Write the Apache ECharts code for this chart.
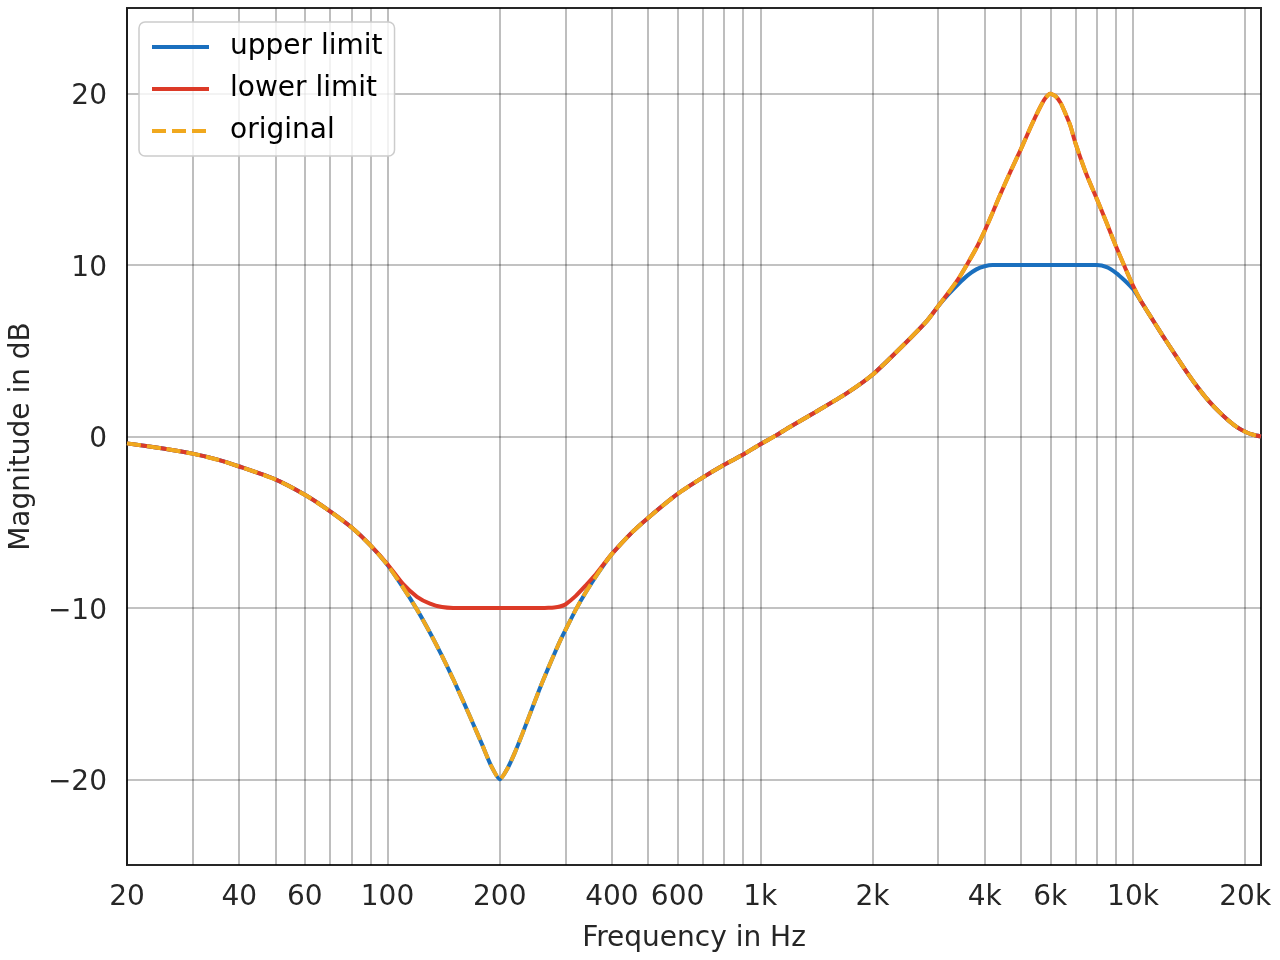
<!DOCTYPE html>
<html>
<head>
<meta charset="utf-8">
<script src="https://cdn.jsdelivr.net/npm/echarts@6/dist/echarts.min.js"></script>
<style>html,body{margin:0;padding:0;background:#fff;}#chart{width:1280px;height:960px;}</style>
</head>
<body>
<div id="chart"></div>
<script>
// Frequencies in Hz
const freq = [20, 25, 30, 35, 40, 50, 60, 70, 80, 90, 100, 110, 120, 130, 140, 150, 160, 170, 180, 190,
  200, 210, 220, 230, 240, 250, 260, 270, 280, 290, 300, 320, 340, 360, 380, 400, 450, 500, 600, 700,
  800, 900, 1000, 1100, 1200, 1400, 1700, 2000, 2400, 2800, 3000, 3200, 3400, 3600, 3800, 4000, 4200, 4400, 4700, 5000,
  5300, 5600, 5800, 6000, 6200, 6400, 6600, 6800, 7000, 7500, 8000, 8500, 9000, 9500, 10000, 10500, 11000, 12000, 13000, 14000,
  15000, 16000, 17000, 18000, 19000, 20000, 21000, 22050];

// Magnitude in dB
const original = [-0.4, -0.7, -1.0, -1.35, -1.75, -2.5, -3.4, -4.35, -5.3, -6.35, -7.5, -8.8, -10.1, -11.45, -12.8, -14.15, -15.5, -16.8, -18.05, -19.25,
  -20.0, -19.35, -18.4, -17.35, -16.3, -15.3, -14.35, -13.5, -12.7, -11.95, -11.3, -10.1, -9.1, -8.25, -7.5, -6.85, -5.65, -4.75, -3.35, -2.4,
  -1.65, -1.05, -0.45, 0.05, 0.55, 1.4, 2.5, 3.6, 5.25, 6.75, 7.6, 8.4, 9.2, 10.1, 11.0, 12.0, 13.05, 14.1, 15.5, 16.75,
  18.0, 19.1, 19.7, 20.0, 19.85, 19.45, 18.8, 18.1, 17.15, 15.3, 13.85, 12.45, 11.1, 9.9, 8.8, 7.9, 7.2, 5.9, 4.75, 3.7,
  2.8, 2.05, 1.45, 0.95, 0.55, 0.28, 0.1, 0.0];

const upper = [-0.4, -0.7, -1.0, -1.35, -1.75, -2.5, -3.4, -4.35, -5.3, -6.35, -7.5, -8.8, -10.1, -11.45, -12.8, -14.15, -15.5, -16.8, -18.05, -19.25,
  -20.0, -19.35, -18.4, -17.35, -16.3, -15.3, -14.35, -13.5, -12.7, -11.95, -11.3, -10.1, -9.1, -8.25, -7.5, -6.85, -5.65, -4.75, -3.35, -2.4,
  -1.65, -1.05, -0.45, 0.05, 0.55, 1.4, 2.5, 3.6, 5.25, 6.75, 7.6, 8.3, 8.9, 9.4, 9.75, 9.93, 10.0, 10.0, 10.0, 10.0,
  10.0, 10.0, 10.0, 10.0, 10.0, 10.0, 10.0, 10.0, 10.0, 10.0, 10.0, 9.88, 9.55, 9.1, 8.6, 7.9, 7.2, 5.9, 4.75, 3.7,
  2.8, 2.05, 1.45, 0.95, 0.55, 0.28, 0.1, 0.0];

const lower = [-0.4, -0.7, -1.0, -1.35, -1.75, -2.5, -3.4, -4.35, -5.3, -6.35, -7.45, -8.6, -9.35, -9.75, -9.95, -10.0, -10.0, -10.0, -10.0, -10.0,
  -10.0, -10.0, -10.0, -10.0, -10.0, -10.0, -10.0, -9.99, -9.97, -9.92, -9.8, -9.3, -8.7, -8.1, -7.45, -6.85, -5.65, -4.75, -3.35, -2.4,
  -1.65, -1.05, -0.45, 0.05, 0.55, 1.4, 2.5, 3.6, 5.25, 6.75, 7.6, 8.4, 9.2, 10.1, 11.0, 12.0, 13.05, 14.1, 15.5, 16.75,
  18.0, 19.1, 19.7, 20.0, 19.85, 19.45, 18.8, 18.1, 17.15, 15.3, 13.85, 12.45, 11.1, 9.9, 8.8, 7.9, 7.2, 5.9, 4.75, 3.7,
  2.8, 2.05, 1.45, 0.95, 0.55, 0.28, 0.1, 0.0];

// Axis ticks / grid
const xGridValues = [20, 30, 40, 50, 60, 70, 80, 90, 100, 200, 300, 400, 500, 600, 700, 800, 900,
  1000, 2000, 3000, 4000, 5000, 6000, 7000, 8000, 9000, 10000, 20000];
const xLabelValues = [20, 40, 60, 100, 200, 400, 600, 1000, 2000, 4000, 6000, 10000, 20000];
const yTickValues = [-20, -10, 0, 10, 20];

const seriesNames = ['upper limit', 'lower limit', 'original'];

const pairs = arr => freq.map((f, i) => [f, arr[i]]);

const FONT = 'DejaVu Sans';
const TXT = '#262626';
const FS = 28;
const chart = echarts.init(document.getElementById('chart'), null, { renderer: 'canvas' });
chart.setOption({
  animation: false,
  backgroundColor: '#ffffff',
  grid: {
    left: 126, right: 19, top: 8, bottom: 95,
    show: true, borderColor: '#262626', borderWidth: 2, backgroundColor: 'transparent',
    containLabel: false
  },
  legend: {
    orient: 'vertical',
    left: 139, top: 22,
    data: seriesNames,
    itemWidth: 57, itemHeight: 14, itemGap: 12,
    padding: [10, 12, 10, 11],
    backgroundColor: 'rgba(255,255,255,0.8)',
    borderColor: '#cccccc', borderWidth: 1.5, borderRadius: 6,
    itemStyle: { opacity: 0 },
    lineStyle: { width: 4 },
    textStyle: { fontFamily: FONT, fontSize: FS, color: '#000', lineHeight: 30, padding: [0, 0, 0, 16] }
  },
  xAxis: {
    type: 'log', logBase: 10, min: 20, max: 22050,
    name: 'Frequency in Hz', nameLocation: 'middle', nameGap: 60,
    nameTextStyle: { fontFamily: FONT, fontSize: FS, color: TXT },
    axisLine: { show: false, onZero: false },
    axisTick: { show: false, customValues: xGridValues },
    axisLabel: {
      customValues: xLabelValues, margin: 19,
      fontFamily: FONT, fontSize: FS, color: TXT,
      formatter: v => v >= 1000 ? (v / 1000) + 'k' : String(v)
    },
    splitLine: { show: true, lineStyle: { color: 'rgba(0,0,0,0.32)', width: 1.6 } },
    minorTick: { show: false }, minorSplitLine: { show: false }
  },
  yAxis: {
    type: 'value', min: -25, max: 25,
    name: 'Magnitude in dB', nameLocation: 'middle', nameGap: 91, nameRotate: 90,
    nameTextStyle: { fontFamily: FONT, fontSize: FS, color: TXT },
    axisLine: { show: false, onZero: false },
    axisTick: { show: false, customValues: yTickValues },
    axisLabel: {
      customValues: yTickValues, margin: 20,
      fontFamily: FONT, fontSize: FS, color: TXT,
      formatter: v => '{a|' + (v < 0 ? '\u2212' + Math.abs(v) : String(v)) + '}',
      rich: { a: { fontFamily: FONT, fontSize: FS, color: TXT, padding: [7, 0, 0, 0] } }
    },
    splitLine: { show: true, lineStyle: { color: 'rgba(0,0,0,0.32)', width: 1.6 } }
  },
  series: [
    { name: seriesNames[0], type: 'line', data: pairs(upper), showSymbol: false, symbol: 'none', smooth: 0.2,
      color: '#1a6fbe', lineStyle: { color: '#1a6fbe', width: 4 }, z: 2 },
    { name: seriesNames[1], type: 'line', data: pairs(lower), showSymbol: false, symbol: 'none', smooth: 0.2,
      color: '#dc3a27', lineStyle: { color: '#dc3a27', width: 4 }, z: 3 },
    { name: seriesNames[2], type: 'line', data: pairs(original), showSymbol: false, symbol: 'none', smooth: 0.2,
      color: '#f0a81e', lineStyle: { color: '#f0a81e', width: 4, type: [14, 6] }, z: 4 }
  ]
});
</script>
</body>
</html>
